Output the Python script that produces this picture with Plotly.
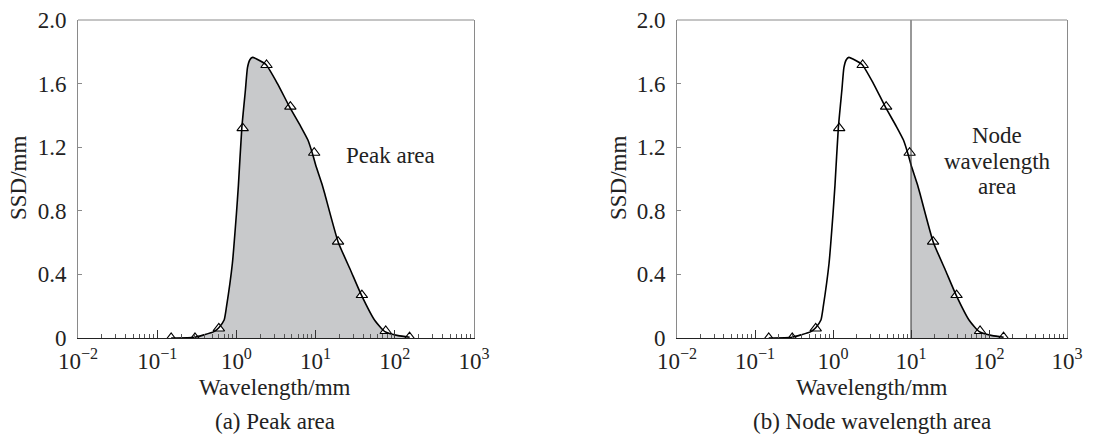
import plotly.graph_objects as go

# ---- data ----
point_x = [0.15, 0.3, 0.6, 1.2, 2.4, 4.8, 9.6, 19.2, 38.4, 76.8, 153.6]
point_y = [0.0, 0.0, 0.06, 1.32, 1.717, 1.455, 1.165, 0.606, 0.27, 0.044, 0.005]

curve_x = [0.15, 0.3, 0.39, 0.52, 0.6, 0.7, 0.75, 0.89, 1.0, 1.06, 1.17, 1.3, 1.38, 1.48,
           1.6, 1.8, 2.36, 3.3, 4.67, 6.5, 8.0, 9.25, 10.0, 12.0, 13.0, 19.2, 28.0, 37.9,
           56.0, 75.0, 110.0, 154.0]
curve_y = [0.0, 0.005, 0.02, 0.04, 0.065, 0.113, 0.197, 0.47, 0.78, 0.96, 1.32, 1.56, 1.70, 1.75,
           1.765, 1.755, 1.72, 1.60, 1.455, 1.33, 1.245, 1.15, 1.09, 0.97, 0.91, 0.606, 0.42, 0.27,
           0.11, 0.04, 0.015, 0.005]

node_x = 10.0
y_ticks = [0, 0.4, 0.8, 1.2, 1.6, 2.0]
y_ticktext = ["0", "0.4", "0.8", "1.2", "1.6", "2.0"]
x_ticks = [0.01, 0.1, 1, 10, 100, 1000]
x_ticktext = ["10<sup>\u22122</sup>", "10<sup>\u22121</sup>", "10<sup>0</sup>",
              "10<sup>1</sup>", "10<sup>2</sup>", "10<sup>3</sup>"]
captions = ["(a) Peak area", "(b) Node wavelength area"]

W, H = 1093, 440
FONT = "Liberation Serif"
FS = 23
FRAME = "#8a8a8a"
FILL = "#c8c9cb"

minor_vals = [m * 10 ** d for d in range(-2, 3) for m in range(2, 10)]

fig = go.Figure()

def add_panel(xa, ya, fill_x, fill_y):
    fig.add_trace(go.Scatter(x=fill_x, y=fill_y, mode="lines", fill="tozeroy",
                             fillcolor=FILL, line=dict(width=0, shape="spline", smoothing=0.5),
                             xaxis=xa, yaxis=ya, showlegend=False, hoverinfo="skip"))
    fig.add_trace(go.Scatter(x=point_x, y=point_y, mode="markers",
                             marker=dict(symbol="triangle-up", size=10, color="white",
                                         line=dict(color="black", width=1.1)),
                             xaxis=xa, yaxis=ya, showlegend=False))
    fig.add_trace(go.Scatter(x=curve_x, y=curve_y, mode="lines",
                             line=dict(color="black", width=1.6, shape="spline", smoothing=0.5),
                             xaxis=xa, yaxis=ya, showlegend=False))

add_panel("x", "y", curve_x, curve_y)
sub = [(x, y) for x, y in zip(curve_x, curve_y) if x >= node_x]
add_panel("x2", "y2", [s[0] for s in sub], [s[1] for s in sub])
fig.add_trace(go.Scatter(x=[node_x, node_x], y=[y_ticks[0], y_ticks[-1]], mode="lines",
                         line=dict(color="#333333", width=1), xaxis="x2", yaxis="y2",
                         showlegend=False))

xdoms = [[78 / W, 474 / W], [677 / W, 1067 / W]]
ydom = [1 - 338 / H, 1 - 20 / H]

def xaxis_cfg(dom, anchor):
    return dict(type="log", domain=dom, anchor=anchor, range=[-2, 3], automargin=False,
                tickvals=x_ticks, ticktext=x_ticktext, ticks="inside", ticklen=8,
                tickcolor="#333", tickwidth=1, showline=True, linecolor="#222", linewidth=1,
                mirror=False, showgrid=False, zeroline=False, ticklabelstandoff=2,
                tickfont=dict(family=FONT, size=FS, color="#222"),
                minor=dict(tickvals=minor_vals, ticks="inside", ticklen=4,
                           tickcolor="#555", tickwidth=1, showgrid=False))

def yaxis_cfg(anchor):
    return dict(domain=ydom, anchor=anchor, range=[0, 2], tickvals=y_ticks, automargin=False,
                ticktext=y_ticktext, ticks="inside", ticklen=4, tickcolor=FRAME,
                showline=True, linecolor=FRAME, linewidth=1, mirror=True,
                showgrid=False, zeroline=False, ticklabelstandoff=6,
                tickfont=dict(family=FONT, size=FS, color="#222"))

fig.update_layout(
    width=W, height=H, margin=dict(l=0, r=0, t=0, b=0),
    paper_bgcolor="white", plot_bgcolor="white",
    xaxis=xaxis_cfg(xdoms[0], "y"), yaxis=yaxis_cfg("x"),
    xaxis2=xaxis_cfg(xdoms[1], "y2"), yaxis2=yaxis_cfg("x2"),
)

# top borders (gray)
for xr, yr in (("x domain", "y domain"), ("x2 domain", "y2 domain")):
    fig.add_shape(type="line", xref=xr, yref=yr, x0=0, x1=1, y0=1, y1=1,
                  line=dict(color=FRAME, width=1))

tf = dict(family=FONT, size=FS, color="#222")
ann = []
for i, cx in enumerate([275, 872]):
    ann.append(dict(text="Wavelength/mm", x=cx / W, y=1 - 387 / H, xref="paper", yref="paper",
                    showarrow=False, font=tf, xanchor="center", yanchor="middle"))
    ann.append(dict(text=captions[i], x=cx / W, y=1 - 421 / H, xref="paper", yref="paper",
                    showarrow=False, font=tf, xanchor="center", yanchor="middle"))
for cx in [18, 618]:
    ann.append(dict(text="SSD/mm", x=cx / W, y=1 - 178 / H, xref="paper", yref="paper",
                    showarrow=False, font=tf, textangle=-90, xanchor="center", yanchor="middle"))
ann.append(dict(text="Peak area", x=390 / W, y=1 - 155 / H, xref="paper", yref="paper",
                showarrow=False, font=tf, xanchor="center", yanchor="middle"))
for txt, cy in (("Node", 135), ("wavelength", 161), ("area", 186)):
    ann.append(dict(text=txt, x=997 / W, y=1 - cy / H, xref="paper", yref="paper",
                    showarrow=False, font=tf, xanchor="center", yanchor="middle"))
fig.update_layout(annotations=ann)

fig.write_html("out.html")
